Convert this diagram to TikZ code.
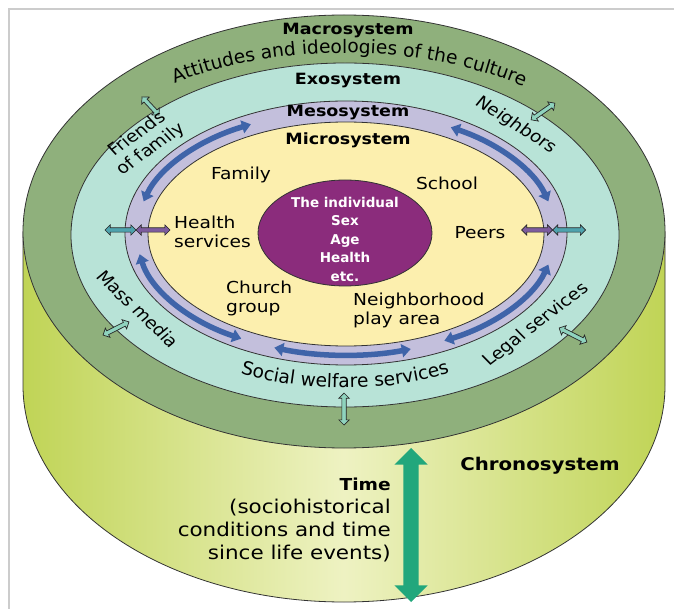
\documentclass[tikz,border=0pt]{standalone}
\usepackage{fontspec}
\setmainfont{DejaVu Sans}
\usetikzlibrary{shapes.geometric, shapes.arrows, arrows.meta, decorations.text}

\definecolor{framecol}{HTML}{CCCCCC}
\definecolor{macrocol}{HTML}{8FB07C}
\definecolor{exocol}{HTML}{B8E3D7}
\definecolor{mesocol}{HTML}{C3BFDC}
\definecolor{microcol}{HTML}{FCEFAE}
\definecolor{indivcol}{HTML}{8B2C7C}
\definecolor{flowcol}{HTML}{3F64A9}
\definecolor{timecol}{HTML}{22A77C}
\definecolor{sidecol}{HTML}{C0D456}
\definecolor{sidelight}{HTML}{EEF2C2}
\definecolor{linkcol}{HTML}{8FD3BE}
\definecolor{tealcol}{HTML}{4FA3AE}
\definecolor{plumcol}{HTML}{7D5C9E}

\newcommand\arcfont{\fontsize{18.6}{21}\selectfont}

\tikzset{
  lbl/.style={xscale=1.13, inner sep=0pt, font=\fontsize{16.5}{19}\selectfont},
  head/.style={lbl, font=\fontsize{15.5}{18}\selectfont\bfseries},
  ring/.style={draw=black!80, line width=0.8pt},
  flow/.style={draw=flowcol, line width=5.5pt, {Triangle[length=9pt,width=13pt]}-{Triangle[length=9pt,width=13pt]}},
  link/.style={double arrow, draw=black!85, line width=0.7pt, inner sep=1.8pt,
    double arrow head extend=3pt, minimum height=#1},
}

\begin{document}
\begin{tikzpicture}[x=1pt, y=1pt]
  \useasboundingbox (0,0) rectangle (674,-609);
  \draw[framecol, line width=1.5pt] (9,-609) -- (9,-9) -- (674,-9);

  % cylinder side
  \path[left color=sidecol, right color=sidecol, middle color=sidelight]
    (23,-231.5) -- (23,-385.5) arc[start angle=180, end angle=360, x radius=321, y radius=216.5]
    -- (665,-231.5) -- cycle;
  \draw[ring] (23,-231.5) -- (23,-385.5) arc[start angle=180, end angle=360, x radius=321, y radius=216.5]
    -- (665,-231.5);

  % rings
  \draw[ring, fill=macrocol] (344,-231.5) ellipse [x radius=321, y radius=216.5];
  \draw[ring, fill=exocol] (345,-235) ellipse [x radius=274, y radius=172];
  \draw[ring, fill=mesocol] (346,-233) ellipse [x radius=221, y radius=132];
  \draw[ring, fill=microcol] (346,-234) ellipse [x radius=198, y radius=112];

  \foreach \from/\to in {117/165, 15/60, 190/240, 250/288, 298/345}
    \draw[flow] ([shift={(346,-233)}]\from:209.5 and 122)
      arc[start angle=\from, end angle=\to, x radius=209.5, y radius=122];

  \node[ellipse, ring, fill=indivcol, minimum width=174pt, minimum height=106pt] (indiv) at (345,-233) {};
  \node[align=center, text=white, inner sep=0pt, font=\fontsize{13.5}{18.5}\selectfont\bfseries]
    (indivlbl) at (345,-239) {The individual\\Sex\\Age\\Health\\etc.};

  % links across the rings
  \node[link=25pt, fill=linkcol, rotate=-47] (l1) at (150.5,-106) {};
  \node[link=29pt, fill=linkcol, rotate=35] (l2) at (543,-111.5) {};
  \node[link=29pt, fill=linkcol, rotate=27] (l3) at (116,-328.5) {};
  \node[link=31pt, fill=linkcol, rotate=-27] (l4) at (573,-335) {};
  \node[link=32pt, fill=linkcol, rotate=90] (l5) at (344,-409) {};
  \node[link=31pt, fill=tealcol] (l6) at (120.5,-230) {};
  \node[link=34pt, fill=plumcol] (l7) at (153,-230) {};
  \node[link=31pt, fill=plumcol] (l8) at (537,-230) {};
  \node[link=33pt, fill=tealcol] (l9) at (569,-230) {};

  \node[double arrow, fill=timecol, rotate=90, minimum height=154pt, inner sep=7.5pt,
    double arrow head extend=9pt] (timearr) at (411,-525) {};

  % curved texts
  \path[decorate, decoration={text along path, text align=center,
    text={|\arcfont|Attitudes and ideologies of the culture}}]
    ([shift={(345,-233)}]130:307 and 180) arc[start angle=130, end angle=48, x radius=307, y radius=180];
  \path[decorate, decoration={text along path, text align=center,
    text={|\arcfont|Social welfare services}}]
    ([shift={(345,-233)}]230:245 and 155) arc[start angle=230, end angle=310, x radius=245, y radius=155];

  % labels
  \node[head] (macro) at (348,-31) {Macrosystem};
  \node[head] (exo) at (348,-81) {Exosystem};
  \node[head] (meso) at (348,-113) {Mesosystem};
  \node[head] (micro) at (348,-140) {Microsystem};
  \node[lbl] (family) at (241,-175) {Family};
  \node[lbl] (school) at (447,-183) {School};
  \node[lbl, anchor=west, align=left] (health) at (174,-232) {Health\\services};
  \node[lbl] (peers) at (480,-233) {Peers};
  \node[lbl, anchor=west, align=left] (church) at (226,-298) {Church\\group};
  \node[lbl, anchor=west, align=left] (nbhd) at (353,-310) {Neighborhood\\play area};
  \node[lbl, rotate=39, align=center] (friends) at (144,-142) {Friends\\of family};
  \node[lbl, rotate=-36] (neighbors) at (516,-125) {Neighbors};
  \node[lbl, rotate=-47] (media) at (138,-309) {Mass media};
  \node[lbl, rotate=41] (legal) at (536,-325) {Legal services};
  \node[lbl, font=\fontsize{17.5}{21}\selectfont\bfseries] (chrono) at (540,-466) {Chronosystem};
  \node[lbl, anchor=east, align=right, font=\fontsize{19}{23.3}\selectfont] (time) at (391,-520)
    {{\fontsize{16.5}{23.3}\selectfont\bfseries Time}\\(sociohistorical\\conditions and time\\since life events)};
\end{tikzpicture}
\end{document}
